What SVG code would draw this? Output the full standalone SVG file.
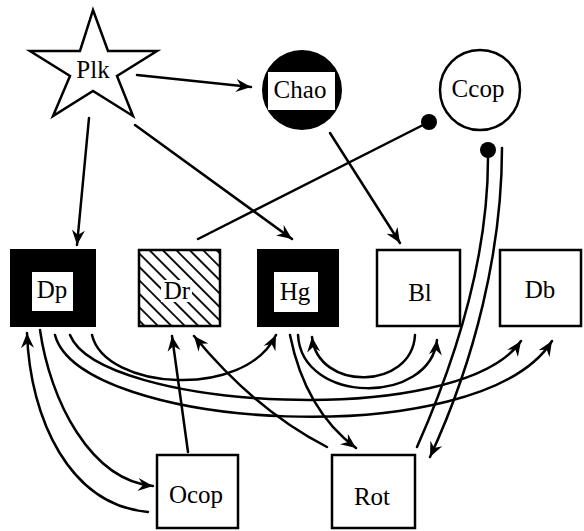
<svg xmlns="http://www.w3.org/2000/svg" width="584" height="531" viewBox="0 0 584 531">
<style>
.lbl{font-family:'Liberation Serif','DejaVu Serif','Noto Serif',serif;font-size:25px;fill:#000;text-anchor:middle}
.box{fill:#fff;stroke:#000;stroke-width:2.5}
.blk{fill:#000}
.wh{fill:#fff}
.c{fill:none;stroke:#000;stroke-width:2.5;stroke-linecap:round}
.a{marker-end:url(#arr)}
.dot{fill:#000}
</style>
<defs>
<marker id="arr" viewBox="-15 -7 16 14" refX="0" refY="0" markerWidth="16" markerHeight="14" markerUnits="userSpaceOnUse" orient="auto">
<path d="M0,0 L-15,-6.5 L-10,0 L-15,6.5 Z" fill="#000"/>
</marker>
<pattern id="hatch" patternUnits="userSpaceOnUse" width="9.5" height="9.5" patternTransform="rotate(-45)">
<rect width="9.5" height="9.5" fill="#fff"/>
<line x1="4.75" y1="0" x2="4.75" y2="9.5" stroke="#000" stroke-width="1.8"/>
</pattern>
</defs>
<rect width="584" height="531" fill="#fff"/>

<g id="connectors">
<path class="c a" d="M137,75 L251,87"/>
<path class="c a" d="M89,118 L77,245"/>
<path class="c a" d="M135,125 L292,239"/>
<path class="c a" d="M330,133 L400,243"/>
<path class="c" d="M198,239 L429,122"/>
<circle class="dot" cx="429" cy="122" r="8"/>
<path class="c" d="M417,447 C460,350 488,250 488,158"/>
<circle class="dot" cx="488" cy="150" r="8"/>
<path class="c a" d="M502,148 C502,250 475,360 430,457"/>
<path class="c a" d="M92,335 C105,390 245,400 276,335"/>
<path class="c a" d="M415,335 C412,390 318,392 312,337"/>
<path class="c a" d="M298,335 C302,405 430,405 437,340"/>
<path class="c a" d="M70,335 C100,410 460,430 521,341"/>
<path class="c a" d="M55,335 C80,430 480,455 552,341"/>
<path class="c a" d="M40,330 C50,400 90,480 153,486"/>
<path class="c a" d="M148,512 C70,505 30,420 27,333"/>
<path class="c a" d="M188,452 L172,336"/>
<path class="c a" d="M327,447 Q255,410 194,336"/>
<path class="c a" d="M290,335 Q305,410 356,448"/>
</g>

<g id="Plk">
<polygon points="93,10 108,51 157,51 117,76 133,116 93,91 53,116 70,76 30,51 80,51" fill="#fff" stroke="#000" stroke-width="2.5" stroke-linejoin="miter"/>
<text class="lbl" x="93" y="78" font-family="Liberation Serif, serif">Plk</text>
</g>
<g id="Chao">
<circle cx="302" cy="90" r="40" class="blk"/>
<rect x="268" y="72" width="67" height="38" class="wh"/>
<text class="lbl" x="300" y="98">Chao</text>
</g>
<g id="Ccop">
<circle cx="480" cy="90" r="40" fill="#fff" stroke="#000" stroke-width="2.5"/>
<text class="lbl" x="478" y="97">Ccop</text>
</g>
<g id="Dp">
<rect x="10" y="249" width="86" height="78" class="blk"/>
<rect x="32" y="272" width="41" height="39" class="wh"/>
<text class="lbl" x="52" y="298">Dp</text>
</g>
<g id="Dr">
<rect x="139" y="250" width="81" height="76" fill="url(#hatch)" stroke="#000" stroke-width="2.5"/>
<rect x="161" y="280" width="31" height="22" class="wh"/>
<text class="lbl" x="177" y="299">Dr</text>
</g>
<g id="Hg">
<rect x="257" y="249" width="82" height="78" class="blk"/>
<rect x="274" y="272" width="44" height="40" class="wh"/>
<text class="lbl" x="295" y="300">Hg</text>
</g>
<g id="Bl">
<rect x="377" y="250" width="83" height="76" class="box"/>
<text class="lbl" x="420" y="301">Bl</text>
</g>
<g id="Db">
<rect x="500" y="250" width="81" height="76" class="box"/>
<text class="lbl" x="540" y="298">Db</text>
</g>
<g id="Ocop">
<rect x="157" y="455" width="81" height="73" class="box"/>
<text class="lbl" x="196" y="503">Ocop</text>
</g>
<g id="Rot">
<rect x="332" y="455" width="83" height="73" class="box"/>
<text class="lbl" x="372" y="505">Rot</text>
</g>
</svg>
